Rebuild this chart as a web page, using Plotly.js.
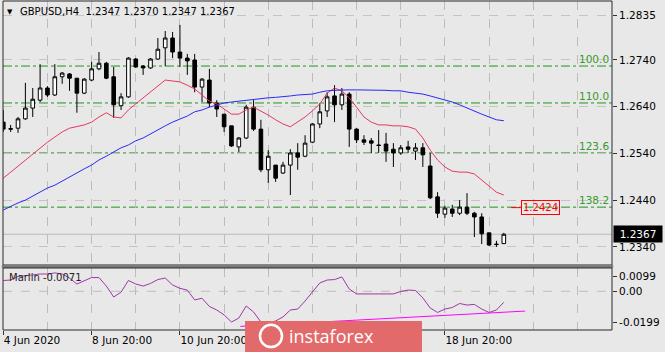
<!DOCTYPE html>
<html><head><meta charset="utf-8">
<script src="https://cdn.plot.ly/plotly-3.0.1.min.js"></script>
<style>html,body{margin:0;padding:0;background:#e8e8e8;}#chart{width:665px;height:352px;}</style>
</head><body><div id="chart"></div>
<script>
const symbol = "GBPUSD,H4";
const open = [1.2607,1.2593,1.2594,1.2614,1.2637,1.2654,1.2680,1.2665,1.2704,1.2710,
  1.2701,1.2669,1.2697,1.2721,1.2733,1.2704,1.2642,1.2661,1.2742,1.2727,
  1.2723,1.2742,1.2766,1.2787,1.2757,1.2744,1.2740,1.2682,1.2697,1.2648,
  1.2624,1.2599,1.2554,1.2573,1.2639,1.2592,1.2505,1.2515,1.2498,1.2515,
  1.2541,1.2534,1.2564,1.2603,1.2631,1.2663,1.2644,1.2667,1.2592,1.2569,
  1.2567,1.2558,1.2560,1.2549,1.2541,1.2554,1.2545,1.2552,1.2513,1.2447,
  1.2410,1.2421,1.2412,1.2425,1.2412,1.2404,1.2370,1.2346,1.2347];
const high = [1.2633,1.2601,1.2618,1.2691,1.2680,1.2731,1.2684,1.2731,1.2714,1.2712,
  1.2701,1.2701,1.2736,1.2757,1.2736,1.2725,1.2669,1.2746,1.2744,1.2729,
  1.2744,1.2787,1.2802,1.2800,1.2815,1.2753,1.2753,1.2701,1.2721,1.2654,
  1.2624,1.2599,1.2575,1.2644,1.2654,1.2612,1.2547,1.2515,1.2522,1.2549,
  1.2562,1.2579,1.2605,1.2648,1.2671,1.2686,1.2680,1.2671,1.2594,1.2579,
  1.2573,1.2590,1.2584,1.2562,1.2558,1.2567,1.2562,1.2562,1.2541,1.2457,
  1.2428,1.2430,1.2440,1.2455,1.2415,1.2412,1.2370,1.2353,1.2370];
const low = [1.2586,1.2586,1.2584,1.2612,1.2618,1.2650,1.2661,1.2663,1.2689,1.2674,
  1.2627,1.2667,1.2695,1.2718,1.2699,1.2616,1.2633,1.2659,1.2723,1.2708,
  1.2721,1.2740,1.2727,1.2744,1.2725,1.2708,1.2671,1.2650,1.2639,1.2618,
  1.2586,1.2554,1.2543,1.2571,1.2588,1.2500,1.2477,1.2479,1.2496,1.2451,
  1.2505,1.2532,1.2562,1.2594,1.2618,1.2607,1.2633,1.2554,1.2562,1.2558,
  1.2541,1.2541,1.2522,1.2511,1.2537,1.2541,1.2526,1.2511,1.2442,1.2402,
  1.2402,1.2404,1.2408,1.2408,1.2361,1.2346,1.2342,1.2340,1.2347];
const close = [1.2592,1.2592,1.2614,1.2637,1.2656,1.2680,1.2665,1.2704,1.2712,1.2701,
  1.2669,1.2699,1.2721,1.2733,1.2701,1.2644,1.2661,1.2744,1.2725,1.2723,
  1.2742,1.2763,1.2787,1.2757,1.2744,1.2738,1.2682,1.2699,1.2648,1.2635,
  1.2597,1.2556,1.2573,1.2639,1.2592,1.2505,1.2534,1.2487,1.2515,1.2541,
  1.2532,1.2562,1.2603,1.2629,1.2661,1.2644,1.2667,1.2592,1.2569,1.2564,
  1.2562,1.2557,1.2545,1.2541,1.2552,1.2549,1.2552,1.2537,1.2445,1.2412,
  1.2423,1.2412,1.2425,1.2412,1.2404,1.2368,1.2344,1.2345,1.2367];
const maFast = [1.2487,1.2500,1.2513,1.2526,1.2539,1.2552,1.2564,1.2575,1.2586,1.2594,
  1.2597,1.2601,1.2607,1.2618,1.2627,1.2618,1.2616,1.2633,1.2646,1.2659,
  1.2671,1.2684,1.2697,1.2695,1.2693,1.2686,1.2678,1.2665,1.2652,1.2646,
  1.2635,1.2624,1.2624,1.2633,1.2639,1.2631,1.2622,1.2612,1.2603,1.2597,
  1.2607,1.2618,1.2631,1.2646,1.2669,1.2680,1.2674,1.2659,1.2639,1.2618,
  1.2607,1.2601,1.2601,1.2599,1.2599,1.2597,1.2592,1.2573,1.2547,1.2526,
  1.2511,1.2502,1.2500,1.2500,1.2496,1.2483,1.2468,1.2457,1.2451];
const maSlow = [1.2419,1.2427,1.2434,1.2440,1.2449,1.2457,1.2466,1.2472,1.2481,1.2490,
  1.2498,1.2507,1.2515,1.2526,1.2534,1.2543,1.2552,1.2558,1.2567,1.2573,
  1.2582,1.2590,1.2599,1.2607,1.2614,1.2620,1.2629,1.2633,1.2639,1.2644,
  1.2648,1.2650,1.2652,1.2654,1.2656,1.2657,1.2659,1.2660,1.2661,1.2663,
  1.2665,1.2666,1.2667,1.2671,1.2674,1.2675,1.2676,1.2676,1.2676,1.2676,
  1.2676,1.2676,1.2675,1.2674,1.2674,1.2671,1.2669,1.2667,1.2663,1.2659,
  1.2654,1.2650,1.2644,1.2637,1.2631,1.2624,1.2618,1.2612,1.2610];
const marlin = [0.0070,0.0073,0.0096,0.0102,0.0106,0.0112,0.0112,0.0119,0.0112,0.0086,
  0.0047,0.0070,0.0089,0.0089,0.0034,-0.0037,-0.0005,0.0070,0.0047,0.0034,
  0.0051,0.0076,0.0086,0.0041,0.0019,0.0008,-0.0056,-0.0045,-0.0098,-0.0121,
  -0.0153,-0.0199,-0.0173,-0.0095,-0.0134,-0.0199,-0.0205,-0.0192,-0.0166,-0.0121,
  -0.0115,-0.0063,-0.0005,0.0054,0.0073,0.0076,0.0093,0.0015,-0.0017,-0.0019,
  -0.0017,-0.0017,-0.0017,-0.0017,-0.0001,0.0008,0.0005,-0.0043,-0.0108,-0.0137,
  -0.0115,-0.0105,-0.0079,-0.0089,-0.0085,-0.0115,-0.0137,-0.0121,-0.0071];
const trendX = [32.2, 70.9];
const trendY = [-0.0227, -0.0128];
const fibLabels = ["100.0","110.0","123.6","138.2"];
const fibPrices = [1.2727,1.2648,1.2541,1.2425];
const levelPrice = 1.2424;
const levelX = [69.0, 70.3];
const priceTicks = [1.2340,1.2440,1.2540,1.2640,1.2740,1.2835];
const marlinTicks = [0.0099, 0, -0.0199];
const marlinTickText = ["0.0099","0.00","-0.0199"];
const timeTickBars = [0,12,24,36,48,60];
// labels at bars 36 and 48 are hidden behind the logo in the reference
const timeTickText = ["4 Jun 2020","8 Jun 20:00","10 Jun 20:00","","","18 Jun 20:00"];
const gridBars = [6,18,30,42,54,66,72,78];

const bars = open.map((_, i) => i);
const last = open.length - 1;
const FONT = 'DejaVu Sans';
const mainBottom = 0.19757, indTop = 0.18845;

const traces = [
  {type:'candlestick', x:bars, open:open, high:high, low:low, close:close, xaxis:'x', yaxis:'y',
   increasing:{line:{color:'#000000',width:1}, fillcolor:'#ffffff'},
   decreasing:{line:{color:'#000000',width:1}, fillcolor:'#000000'},
   whiskerwidth:0, hoverinfo:'none'},
  {type:'scatter', mode:'lines', x:bars, y:maFast, xaxis:'x', yaxis:'y', line:{color:'#e8375f', width:1}, hoverinfo:'none'},
  {type:'scatter', mode:'lines', x:bars, y:maSlow, xaxis:'x', yaxis:'y', line:{color:'#2a2af5', width:1}, hoverinfo:'none'},
  {type:'scatter', mode:'lines', x:trendX, y:trendY, xaxis:'x', yaxis:'y2', line:{color:'#ff00ff', width:1}, hoverinfo:'none'},
  {type:'scatter', mode:'lines', x:bars, y:marlin, xaxis:'x', yaxis:'y2', line:{color:'#a036a6', width:1}, hoverinfo:'none'}
];

const shapes = [];
fibPrices.forEach(p => shapes.push({type:'line', xref:'paper', x0:0, x1:1, yref:'y', y0:p, y1:p,
  line:{color:'#1c961c', width:1, dash:'dashdot'}, layer:'below'}));
shapes.push({type:'line', xref:'paper', x0:0, x1:1, yref:'y', y0:close[last], y1:close[last],
  line:{color:'#b9b9b9', width:1}, layer:'below'});
shapes.push({type:'line', xref:'x', x0:levelX[0], x1:levelX[1], yref:'y', y0:levelPrice, y1:levelPrice,
  line:{color:'#ff0000', width:1}});
shapes.push({type:'line', xref:'paper', x0:0, x1:1, yref:'y2', y0:0, y1:0,
  line:{color:'#bdbdbd', width:1, dash:'dash'}, layer:'below'});
shapes.push({type:'rect', xref:'paper', yref:'paper', x0:0, x1:1, y0:mainBottom, y1:1,
  line:{color:'#2b2b2b', width:1}, fillcolor:'rgba(0,0,0,0)'});
shapes.push({type:'rect', xref:'paper', yref:'paper', x0:-0.002, x1:1.002, y0:indTop, y1:mainBottom,
  line:{width:0}, fillcolor:'#7c7c7c'});
shapes.push({type:'rect', xref:'paper', yref:'paper', x0:0, x1:1, y0:0, y1:indTop,
  line:{color:'#2b2b2b', width:1}, fillcolor:'rgba(0,0,0,0)'});
// logo
shapes.push({type:'rect', xref:'paper', yref:'paper', x0:0.3974, x1:0.688, y0:-0.07, y1:0.0274,
  line:{width:0}, fillcolor:'#e36a6a', layer:'above'});
shapes.push({type:'circle', xref:'paper', yref:'paper', x0:0.4220, x1:0.4581, y0:-0.0520, y1:0.0160,
  line:{color:'#ffffff', width:2.5}, fillcolor:'rgba(0,0,0,0)', layer:'above'});

const annotations = [];
annotations.push({xref:'paper', yref:'paper', x:0.0123, y:0.968, xanchor:'center', yanchor:'middle',
  text:'\u25BC', showarrow:false, font:{family:FONT, size:7, color:'#000'}});
annotations.push({xref:'paper', yref:'paper', x:0.0245, y:0.968, xanchor:'left', yanchor:'middle',
  text: symbol + '\u00a0\u00a0' + [open[last], high[last], low[last], close[last]].map(v => v.toFixed(4)).join(' '),
  showarrow:false, font:{family:FONT, size:10, color:'#000'}});
fibPrices.forEach((p, i) => annotations.push({xref:'paper', yref:'y', x:1, y:p, xanchor:'right', yanchor:'bottom',
  text:fibLabels[i], showarrow:false, xshift:-1, yshift:-1, font:{family:FONT, size:10.5, color:'#369a2c'}}));
annotations.push({xref:'paper', yref:'y', x:1, y:close[last], xanchor:'left', yanchor:'middle', xshift:1,
  text:close[last].toFixed(4), showarrow:false, bgcolor:'#000000', borderpad:2, width:44, align:'center',
  font:{family:FONT, size:10.5, color:'#ffffff'}});
annotations.push({xref:'x', yref:'y', x:levelX[1], y:levelPrice, xanchor:'left', yanchor:'middle',
  text:levelPrice.toFixed(4), showarrow:false, bordercolor:'#ff0000', borderwidth:1, borderpad:1,
  font:{family:FONT, size:10, color:'#ff0000'}});
annotations.push({xref:'paper', yref:'paper', x:0.0066, y:0.159, xanchor:'left', yanchor:'middle',
  text:'Marlin ' + marlin[last].toFixed(4), showarrow:false, font:{family:FONT, size:10, color:'#222'}});
annotations.push({xref:'paper', yref:'paper', x:0.5395, y:-0.018, xanchor:'center', yanchor:'middle',
  text:'instaforex', showarrow:false, font:{family:'Open Sans', size:18, color:'#ffffff'}});

const layout = {
  width:665, height:352,
  margin:{l:3, r:53, t:1, b:22, pad:0},
  paper_bgcolor:'#e8e8e8', plot_bgcolor:'#e8e8e8',
  showlegend:false, hovermode:false, dragmode:false,
  font:{family:FONT, size:10.5, color:'#000'},
  xaxis:{range:[-0.04, 82.7], anchor:'y2', rangeslider:{visible:false},
    tickmode:'array', tickvals:timeTickBars, ticktext:timeTickText,
    ticks:'outside', ticklen:4, tickcolor:'#333', ticklabelposition:'outside right',
    showgrid:true, gridcolor:'#bcbcbc', griddash:'dash', gridwidth:1,
    minor:{tickmode:'array', tickvals:gridBars, showgrid:true, gridcolor:'#bcbcbc', griddash:'dash', ticks:''},
    zeroline:false, showline:false, tickfont:{family:FONT, size:10.5}},
  yaxis:{domain:[mainBottom, 1], range:[1.23012, 1.28662], side:'right', anchor:'x',
    tickmode:'array', tickvals:priceTicks, ticktext:priceTicks.map(v => v.toFixed(4)),
    ticks:'outside', ticklen:4, tickcolor:'#333',
    showgrid:true, gridcolor:'#c4c4c4', griddash:'dash', zeroline:false, showline:false,
    tickfont:{family:FONT, size:10.5}},
  yaxis2:{domain:[0, indTop], range:[-0.02506, 0.01509], side:'right', anchor:'x',
    tickmode:'array', tickvals:marlinTicks, ticktext:marlinTickText,
    ticks:'outside', ticklen:4, tickcolor:'#333',
    showgrid:false, zeroline:false, showline:false, tickfont:{family:FONT, size:10.5}},
  shapes:shapes, annotations:annotations
};

Plotly.newPlot('chart', traces, layout, {staticPlot:true, displayModeBar:false});
</script>
</body></html>
